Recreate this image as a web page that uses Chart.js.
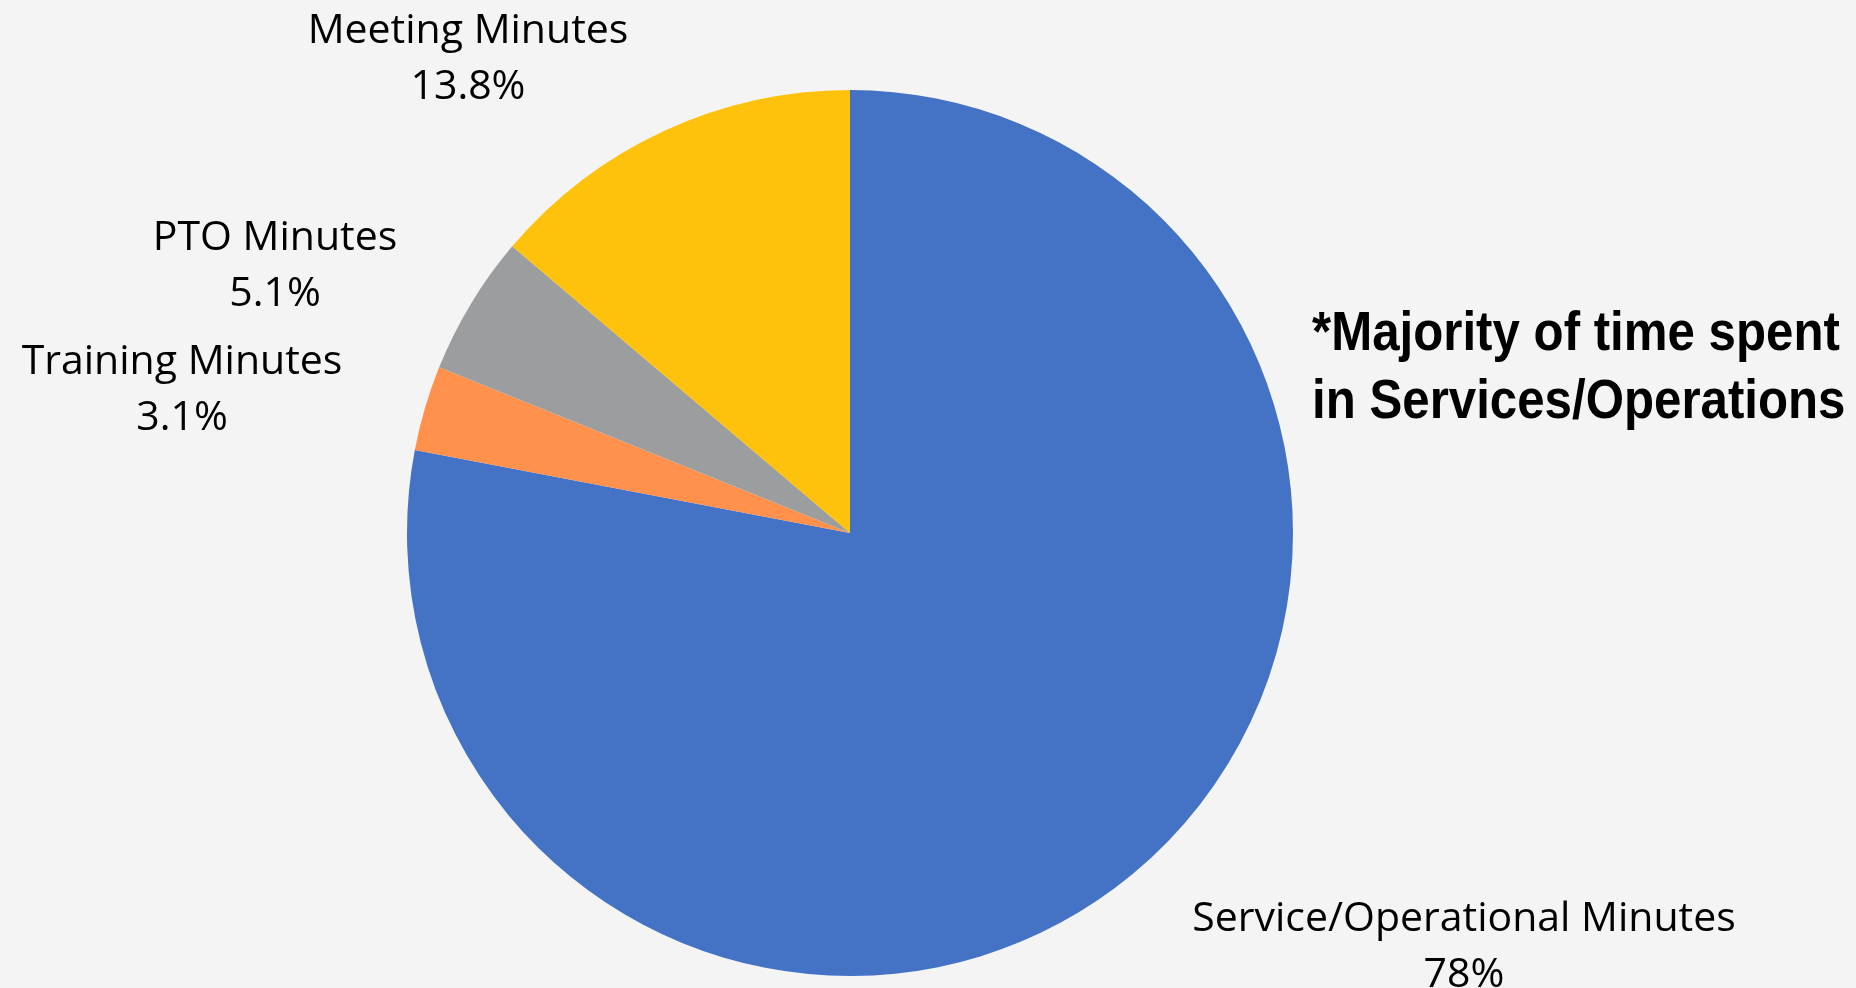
<!DOCTYPE html>
<html>
<head>
<meta charset="utf-8">
<script src="https://cdn.jsdelivr.net/npm/chart.js@4.4.0/dist/chart.umd.min.js"></script>
<style>
    html, body {
        margin: 0;
        padding: 0;
        background: #F4F4F4;
    }
    #pie-holder {
        position: relative;
        width: 1856px;
        height: 988px;
    }
</style>
</head>
<body>
<div id="pie-holder">
    <canvas id="time-pie"></canvas>
</div>
<script>
// Slice names, clockwise from 12 o'clock
const categories = ['Service/Operational Minutes', 'Training Minutes', 'PTO Minutes', 'Meeting Minutes'];

// Share of total minutes (percent)
const shares = [78, 3.1, 5.1, 13.8];

// Slice colours
const sliceColors = ['#4472C4', '#FF914D', '#9C9D9E', '#FEC20C'];

// Note shown on the right hand side
const noteLines = ['*Majority of time spent', 'in Services/Operations'];

// Where each label sits, measured from the pie centre (px)
const labelOffsets = [
    [614, 398],
    [-668, -159],
    [-575, -283],
    [-382, -490]
];

//------------------------------------------------//
// Plugin that writes the outside labels and note //
//------------------------------------------------//
const outsideLabels = {
    id: 'outsideLabels',
    afterDatasetsDraw(chart) {
        const ctx = chart.ctx;
        const arcs = chart.getDatasetMeta(0).data;
        const total = shares.reduce((a, b) => a + b, 0);

        ctx.save();
        ctx.fillStyle = '#000000';
        ctx.textAlign = 'center';
        ctx.textBaseline = 'alphabetic';
        ctx.font = '41px "Open Sans"';

        arcs.forEach((arc, i) => {
            let x = arc.x + labelOffsets[i][0];
            let y = arc.y + labelOffsets[i][1];
            let pct = Number((shares[i] / total * 100).toFixed(1)) + '%';
            ctx.fillText(categories[i], x, y);
            ctx.fillText(pct, x, y + 56);
        });

        // Bold note on the right, squeezed a little to look condensed
        ctx.textAlign = 'left';
        ctx.font = 'bold 55px "Liberation Sans"';
        ctx.translate(1312, 0);
        ctx.scale(0.895, 1);
        noteLines.forEach((line, i) => {
            ctx.fillText(line, 0, 350 + i * 68);
        });
        ctx.restore();
    }
};

let ctx = document.getElementById('time-pie');

pieChart = new Chart(ctx, {
    type: 'pie',
    data: {
        labels: categories,
        datasets: [{
            label: 'Minutes',
            data: shares,
            backgroundColor: sliceColors,
            borderWidth: 0
        }]
    },
    options: {
        responsive: true,
        maintainAspectRatio: false,
        animation: false,
        // Padding keeps the pie where it is in the original
        layout: {
            padding: {
                top: 90,
                bottom: 12,
                left: 407,
                right: 563
            }
        },
        plugins: {
            legend: {
                display: false
            },
            tooltip: {
                enabled: false
            }
        }
    },
    plugins: [outsideLabels]
});
</script>
</body>
</html>
